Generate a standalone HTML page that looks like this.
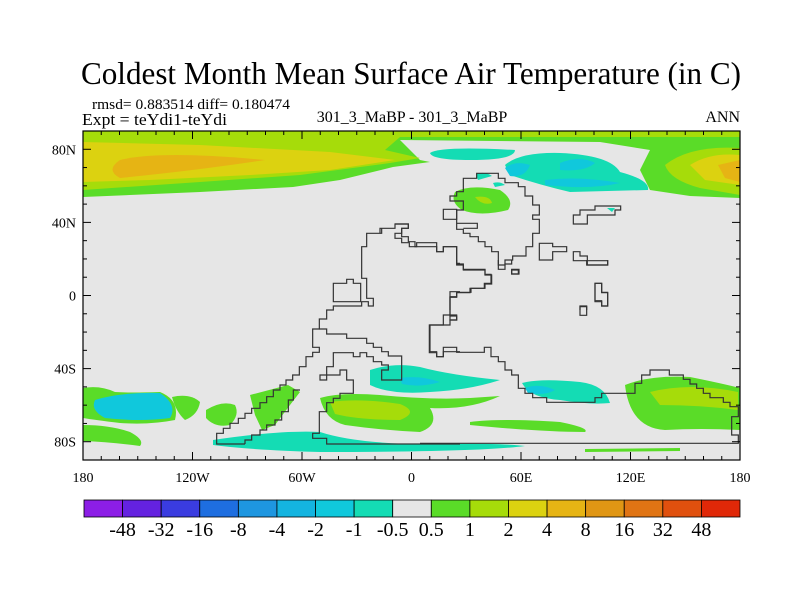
<!DOCTYPE html>
<html><head><meta charset="utf-8"><style>
body{margin:0;background:#fff;width:800px;height:600px;overflow:hidden}
svg{display:block;font-family:"Liberation Serif",serif}
.cl path{vector-effect:non-scaling-stroke}
</style></head><body>
<svg id="chart" width="800" height="600" viewBox="0 0 800 600">
<text x="411" y="84" font-size="32" text-anchor="middle" textLength="660" lengthAdjust="spacingAndGlyphs">Coldest Month Mean Surface Air Temperature (in C)</text>
<text x="92" y="109" font-size="15" textLength="198" lengthAdjust="spacingAndGlyphs">rmsd= 0.883514 diff= 0.180474</text>
<text x="82" y="125" font-size="17" textLength="145" lengthAdjust="spacingAndGlyphs">Expt = teYdi1-teYdi</text>
<text x="412" y="122" font-size="16" text-anchor="middle">301_3_MaBP - 301_3_MaBP</text>
<text x="740" y="122" font-size="16" text-anchor="end">ANN</text>
<defs><clipPath id="mc"><rect x="83" y="131" width="657" height="329"/></clipPath></defs>
<g clip-path="url(#mc)">
<rect x="83" y="131" width="657" height="329" fill="#e6e6e6"/>
<path d="M83,131 L740,131 L740,198 L690,196 L650,190 L640,170 L650,150 L600,142 L400,140 L420,160 L430,162 L393,167 L340,180 L293,187 L200,192 L83,197 Z" fill="#5adc28"/>
<path d="M83,131 L740,131 L740,137 L400,137 L385,150 L420,158 L390,163 L300,175 L200,182 L83,190 Z" fill="#a6dc0a"/>
<path d="M83,142 L200,145 L330,152 L395,160 L330,170 L250,175 L150,180 L83,182 Z" fill="#dcd210"/>
<path d="M120,160 Q160,150 265,160 Q200,170 120,178 Q105,170 120,160 Z" fill="#e6b414"/>
<path d="M665,165 Q690,145 740,148 L740,195 L700,188 Q670,180 665,165 Z" fill="#a6dc0a"/>
<path d="M690,165 Q710,152 740,155 L740,185 L705,180 Z" fill="#dcd210"/>
<path d="M718,165 L740,160 L740,182 L725,178 Z" fill="#e6b414"/>
<path d="M430,153 Q440,146 515,150 Q515,160 470,160 Q432,160 430,153 Z" fill="#14dcb4"/>
<path d="M505,165 Q520,152 560,153 Q610,155 620,172 Q650,180 648,190 L570,192 Q540,185 510,175 Z" fill="#14dcb4"/>
<path d="M505,168 Q515,160 530,165 Q525,178 510,176 Z" fill="#10c8dc"/>
<path d="M560,163 Q580,155 595,163 Q585,172 560,170 Z M545,180 Q580,176 620,183 Q590,190 545,185 Z" fill="#10c8dc"/>
<path d="M455,192 Q470,184 500,190 Q515,200 508,210 Q480,217 462,210 Q450,202 455,192 Z" fill="#5adc28"/>
<path d="M475,197 Q490,195 492,203 Q482,206 475,197 Z" fill="#a6dc0a"/>
<path d="M476,174 Q485,171 492,176 L478,180 Z M493,183 Q500,181 505,185 L495,187 Z M607,208 L615,208 L612,212 Z" fill="#14dcb4"/>
<path d="M83,388 Q100,385 115,392 Q130,393 160,392 Q180,400 175,420 Q150,425 120,423 Q95,420 83,418 Z" fill="#5adc28"/>
<path d="M95,400 Q120,392 160,393 Q178,405 170,418 Q140,422 105,418 Q90,410 95,400 Z" fill="#10c8dc"/>
<path d="M172,397 Q190,393 200,402 Q198,415 185,420 Q176,412 172,397 Z" fill="#5adc28"/>
<path d="M83,425 Q110,425 130,432 Q145,440 140,446 Q110,442 83,441 Z" fill="#5adc28"/>
<path d="M206,410 Q222,400 235,405 Q240,415 230,425 Q215,428 206,418 Z" fill="#5adc28"/>
<path d="M250,395 L288,385 L300,392 L290,405 L275,425 L262,430 L255,415 Z" fill="#5adc28"/>
<path d="M320,398 Q340,392 380,395 Q430,400 470,398 L500,396 Q470,410 430,408 Q440,425 420,432 Q380,430 345,425 Q325,420 320,398 Z" fill="#5adc28"/>
<path d="M330,402 Q360,398 400,404 Q420,412 400,420 Q360,420 335,414 Z" fill="#a6dc0a"/>
<path d="M370,370 Q395,362 420,367 Q450,375 500,380 Q470,390 430,392 Q390,395 370,385 Z" fill="#14dcb4"/>
<path d="M400,378 Q420,375 440,382 Q420,388 402,384 Z" fill="#10c8dc"/>
<path d="M522,383 Q540,378 580,382 Q605,385 610,403 Q590,405 560,400 Q530,398 522,383 Z" fill="#14dcb4"/>
<path d="M525,388 Q540,383 555,390 Q545,396 528,393 Z" fill="#10c8dc"/>
<path d="M470,422 Q500,418 560,422 Q590,428 585,432 Q540,432 470,425 Z" fill="#5adc28"/>
<path d="M625,385 Q650,375 690,377 Q720,383 740,388 L740,430 Q700,428 665,430 Q630,428 625,385 Z" fill="#5adc28"/>
<path d="M650,392 Q690,382 738,392 L738,410 Q700,405 660,405 Z" fill="#a6dc0a"/>
<path d="M213,440 Q280,430 320,432 Q360,445 440,444 Q500,443 525,446 Q480,452 320,452 Q250,450 213,445 Z" fill="#14dcb4"/>
<path d="M585,449 L680,448 L680,451 L585,452 Z" fill="#5adc28"/>
</g>
<g class="cl" fill="none" stroke="#333" stroke-width="1.2">
<g transform="translate(380,130) scale(0.33333)">
<path d="M250,145 L290,145 L290,130 L355,130 L355,145 L375,145 L375,158 L415,158 L415,170 L435,170 L435,198 L458,198 L458,225 L478,225 L478,255 L458,255 L458,268 L478,268 L478,310 L458,310 L458,350 L438,350 L438,378 L398,378 L398,390 L375,390 L375,405 L355,405 L355,365 L335,365 L335,350 L315,350 L315,335 L295,335 L295,320 L270,320 L270,310 L250,310 L250,298 L230,298 L230,240 L250,240 L250,213 L210,213 L210,198 L230,198 L230,185 L250,185 Z"/>
<path d="M190,238 L230,238 L230,268 L190,268 Z M230,280 L292,280 L292,295 L250,295"/>
<path d="M0,310 L0,295 L45,295 L45,282 L85,282 L85,295 L65,295 L65,320 L85,320 L85,335 L105,335 L105,350 L170,350 L170,365 L190,365 L190,350 L230,350 L230,405 L250,405 L250,420 L315,420 L315,435 L335,435 L335,462 L315,462 L315,475 L270,475 L270,488 L230,488 L230,500 L210,500 L210,540"/>
<path d="M478,340 L518,340 L518,350 L560,350 L560,365 L518,365 L518,390 L478,390 Z M395,420 L415,420 L415,432 L395,432 Z"/>
<path d="M580,365 L600,365 L600,378 L622,378 L622,392 L683,392 L683,405 L622,405 L622,392 L580,392 Z"/>
<path d="M645,460 L665,460 L665,488 L683,488 L683,528 L665,528 L665,512 L645,512 Z M600,540 L600,530 L620,530 L620,540"/>
<path d="M580,255 L600,255 L600,240 L645,240 L645,228 L722,228 L722,240 L705,240 L705,255 L622,255 L622,282 L580,282 Z"/>
</g>
<g transform="translate(200,220) scale(0.33333)">
<path d="M585,12 L625,12 L625,25 L605,25 L605,40 L585,40 L585,55 L605,55 L605,68 L628,68 L628,80 L650,80 L650,68 L710,68 L710,95 L730,95 L730,80 L770,80 L770,130 L780,130"/>
<path d="M545,25 L545,40 L500,40 L500,80 L485,80 L485,175 L500,175 L500,235 L520,235 L520,258 L505,258 L505,245 L485,245 L485,258 L400,258 L400,270 L380,270 L380,297 L358,297 L358,327 L338,327 L338,382 L358,382 L358,397 L338,397 L338,410 L318,410 L318,440 L298,440 L298,465 L278,465 L278,480 L258,480 L258,495 L240,495 L240,510 L220,510 L220,530 L200,530 L200,548 L180,548 L180,565 L155,565 L155,580 L135,580 L135,595 L115,595 L115,610 L90,610 L90,625 L70,625 L70,640 L50,640 L50,672 L135,672"/>
<path d="M400,190 L440,190 L440,178 L460,178 L460,190 L482,190 L482,245 L400,245 Z"/>
<path d="M358,327 L380,327 L380,342 L440,342 L440,355 L500,355 L500,370 L520,370 L520,382 L545,382 L545,395 L565,395 L565,408 L605,408 L605,480 L545,480 L545,450 L565,450 L565,435 L545,435 L545,425 L520,425 L520,410 L500,410 L500,398 L480,398 L480,410 L460,410 L460,398 L400,398 L400,440 L380,440 L380,465 L360,465 L360,480 L380,480 L380,465 L420,465 L420,450 L440,450 L440,480 L460,480 L460,520 L420,520 L420,535 L400,535 L400,548 L380,548 L380,575 L358,575 L358,640 L338,640 L338,655 L380,655 L380,672 L780,672"/>
<path d="M300,510 L280,510 L280,540 L265,540 L265,575 L245,575 L245,600 L225,600 L225,615 L200,615 L200,630 L180,630 L180,645 L155,645 L155,660 L135,660 L135,672"/>
<path d="M780,215 L750,215 L750,288 L770,288 L770,300 L750,300 L750,315 L690,315 L690,395 L710,395 L710,410 L730,410 L730,395 L780,395"/>
</g>
<g transform="translate(420,260) scale(0.33333)">
<path d="M110,0 L110,12 L130,12 L130,28 L195,28 L195,43 L213,43 L213,70 L193,70 L193,85 L153,85 L153,97 L110,97 L110,112 L90,112 L90,165 L70,165 L70,195 L28,195 L28,278 L50,278 L50,290 L70,290 L70,262 L110,262 L110,277 L193,277 L193,262 L213,262 L213,290 L235,290 L235,305 L255,305 L255,330 L275,330 L275,345 L295,345 L295,385 L315,385 L315,400 L338,400 L338,413 L380,413 L380,427 L525,427 L525,413 L545,413 L545,400 L645,400 L645,370 L665,370 L665,345 L690,345 L690,330 L748,330 L748,345 L790,345 L790,358 L810,358 L810,372 L830,372 L830,385 L850,385 L850,400 L870,400 L870,413 L910,413 L910,427 L930,427 L930,440 L955,440 L955,470 L935,470 L935,525 L955,525 L955,550 L0,550"/>
<path d="M90,165 L110,165 L110,180 L90,180 Z M275,28 L297,28 L297,42 L275,42 Z M480,138 L500,138 L500,166 L480,166 Z"/>
<path d="M525,70 L545,70 L545,97 L563,97 L563,138 L545,138 L545,125 L525,125 Z"/>
<path d="M235,0 L235,28 L255,28 L255,12 L275,12 L275,0 M500,0 L500,15 L563,15 L563,0"/>
</g>
</g>
<rect x="83" y="131" width="657" height="329" fill="none" stroke="#000" stroke-width="1.2"/>
<g id="axes"></g>
<g id="colorbar"></g>
</svg>
<script>
const lonTicks=[-180,-120,-60,0,60,120,180];
const lonLabels=["180","120W","60W","0","60E","120E","180"];
const latTicks=[80,40,0,-40,-80];
const latLabels=["80N","40N","0","40S","80S"];
const cbLabels=["-48","-32","-16","-8","-4","-2","-1","-0.5","0.5","1","2","4","8","16","32","48"];
const cbColors=["#8c1ee6","#6422e0","#3a3ce0","#1e6ee0","#1e96e0","#14b4e0","#10c8dc","#14dcb4","#e6e6e6","#5adc28","#a6dc0a","#dcd210","#e6b414","#e09614","#e07414","#e0500e","#e02808"];
const NS="http://www.w3.org/2000/svg";
const X0=83,X1=740,Y0=131,Y1=460;
const xs=l=>X0+(l+180)/360*(X1-X0);
const ys=l=>Y0+(90-l)/180*(Y1-Y0);
function mk(t,a,p){const e=document.createElementNS(NS,t);for(const k in a)e.setAttribute(k,a[k]);p.appendChild(e);return e;}
const ax=document.getElementById('axes');
for(let l=-180;l<=180;l+=10){const x=xs(l),big=l%60===0;
 const t1=mk('line',{x1:x,x2:x,y1:Y1,y2:Y1-(big?8:4),stroke:'#000'},ax);
 
 
 const t2=mk('line',{x1:x,x2:x,y1:Y0,y2:Y0+(big?8:4),stroke:'#000'},ax);
 
 }
for(let l=-90;l<=90;l+=10){const y=ys(l),big=l%40===0;
 const t1=mk('line',{x1:X0,x2:X0+(big?8:4),y1:y,y2:y,stroke:'#000'},ax);
 
 
 const t2=mk('line',{x1:X1,x2:X1-(big?8:4),y1:y,y2:y,stroke:'#000'},ax);
 
 }
lonTicks.forEach((l,i)=>{const t=mk('text',{x:xs(l),y:482,'font-size':14,'text-anchor':'middle'},ax);t.textContent=lonLabels[i];
 
 });
latTicks.forEach((l,i)=>{const t=mk('text',{x:76,y:ys(l)+5,'font-size':14,'text-anchor':'end'},ax);t.textContent=latLabels[i];
 
 });
const cb=document.getElementById('colorbar');
const CX0=84,CX1=740,CY=500,CH=17,w=(CX1-CX0)/cbColors.length;
cbColors.forEach((c,i)=>{const r=mk('rect',{x:CX0+i*w,y:CY,width:w,height:CH,fill:c,stroke:'#000','stroke-width':0.8},cb);
 
 });
cbLabels.forEach((s,i)=>{const t=mk('text',{x:CX0+(i+1)*w,y:536,'font-size':20,'text-anchor':'middle'},cb);t.textContent=s;
 
 });
</script>
</body></html>
